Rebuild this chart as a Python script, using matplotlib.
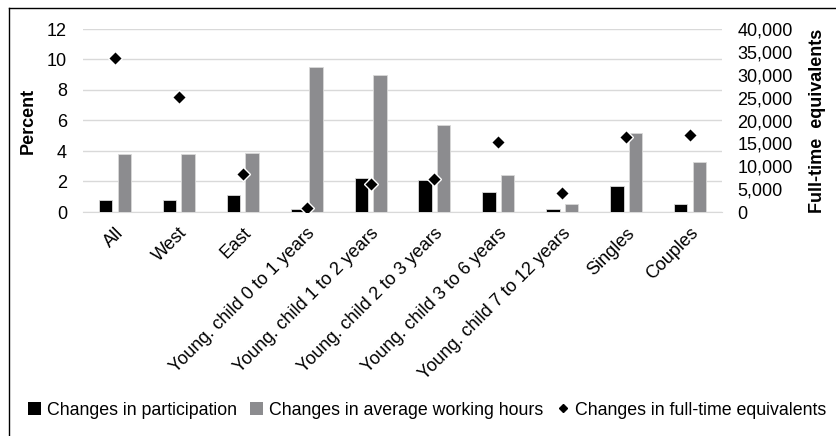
import matplotlib
matplotlib.use("Agg")
import matplotlib.pyplot as plt
import numpy as np
from matplotlib.lines import Line2D
from matplotlib.patches import Patch
from matplotlib import font_manager

categories = ["All", "West", "East", "Young. child 0 to 1 years", "Young. child 1 to 2 years",
              "Young. child 2 to 3 years", "Young. child 3 to 6 years", "Young. child 7 to 12 years",
              "Singles", "Couples"]
participation = [0.8, 0.8, 1.1, 0.2, 2.2, 2.1, 1.3, 0.2, 1.7, 0.5]
working_hours = [3.8, 3.8, 3.9, 9.5, 9.0, 5.7, 2.4, 0.5, 5.2, 3.3]
fte = [33600, 25200, 8200, 800, 6200, 7200, 15200, 4200, 16500, 16900]
left_ticks = [0, 2, 4, 6, 8, 10, 12]
right_ticks = [0, 5000, 10000, 15000, 20000, 25000, 30000, 35000, 40000]

names = {f.name for f in font_manager.fontManager.ttflist}
main_font = "Liberation Sans" if "Liberation Sans" in names else "DejaVu Sans"
plt.rcParams['font.family'] = [main_font, 'DejaVu Sans']

W, H = 836, 436
fig = plt.figure(figsize=(W/100, H/100), dpi=100)
ax = fig.add_axes([83/W, 1-212/H, (722-83)/W, (212-29)/H])
ax2 = ax.twinx()

x = np.arange(len(categories))
bw = 0.21
ax.bar(x - 0.145, participation, width=bw, color="black", edgecolor="#d9d9d9", linewidth=0.6, zorder=3)
ax.bar(x + 0.145, working_hours, width=bw, color="#8c8c8f", edgecolor="#d9d9d9", linewidth=0.6, zorder=3)
ax2.plot(x, fte, linestyle="none", marker="D", markersize=7, color="black",
         markeredgecolor="white", markeredgewidth=1.0, zorder=5)

ax.set_xlim(-0.5, len(categories) - 0.5)
ax.set_ylim(0, 12)
ax2.set_ylim(0, 40000)
ax.set_yticks(left_ticks)
ax2.set_yticks(right_ticks)
ax2.set_yticklabels([f"{v:,}" for v in right_ticks])
ax.yaxis.grid(True, color="#d9d9d9", linewidth=1.0, zorder=0)
ax.set_axisbelow(True)
for a in (ax, ax2):
    for s in a.spines.values():
        s.set_visible(False)
    a.tick_params(length=0, labelsize=13)
ax.spines['bottom'].set_visible(True)
ax.spines['bottom'].set_color("#d9d9d9")
ax.tick_params(axis='y', pad=11.5)
ax2.tick_params(axis='y', pad=11)
ax.set_xticks(x)
ax.set_xticklabels(categories, rotation=45, ha="right", rotation_mode="anchor", fontsize=13)
ax.tick_params(axis='x', pad=9)

ax.set_ylabel("Percent", fontsize=13, fontweight="bold", labelpad=7)
ax2.set_ylabel("Full-time  equivalents", fontsize=13, fontweight="bold", labelpad=12)

handles = [Patch(facecolor="black", edgecolor="none"),
           Patch(facecolor="#8c8c8f", edgecolor="none"),
           Line2D([], [], linestyle="none", marker="D", markersize=4, color="black")]
labels = ["Changes in participation", "Changes in average working hours", "Changes in full-time equivalents"]
fig.legend(handles, labels, loc="center", bbox_to_anchor=(427/W, 1-410/H), ncol=3, frameon=False,
           prop={'size': 12.8},
           handlelength=0.75, handleheight=0.75, handletextpad=0.3, columnspacing=0.75)

# figure frame (left and top edges visible)
fig.add_artist(Line2D([8.5/W, 8.5/W], [0, 1-8.5/H], transform=fig.transFigure, color="black", linewidth=1))
fig.add_artist(Line2D([8.5/W, 1], [1-8.5/H, 1-8.5/H], transform=fig.transFigure, color="black", linewidth=1))

fig.savefig("out.png", dpi=100)
